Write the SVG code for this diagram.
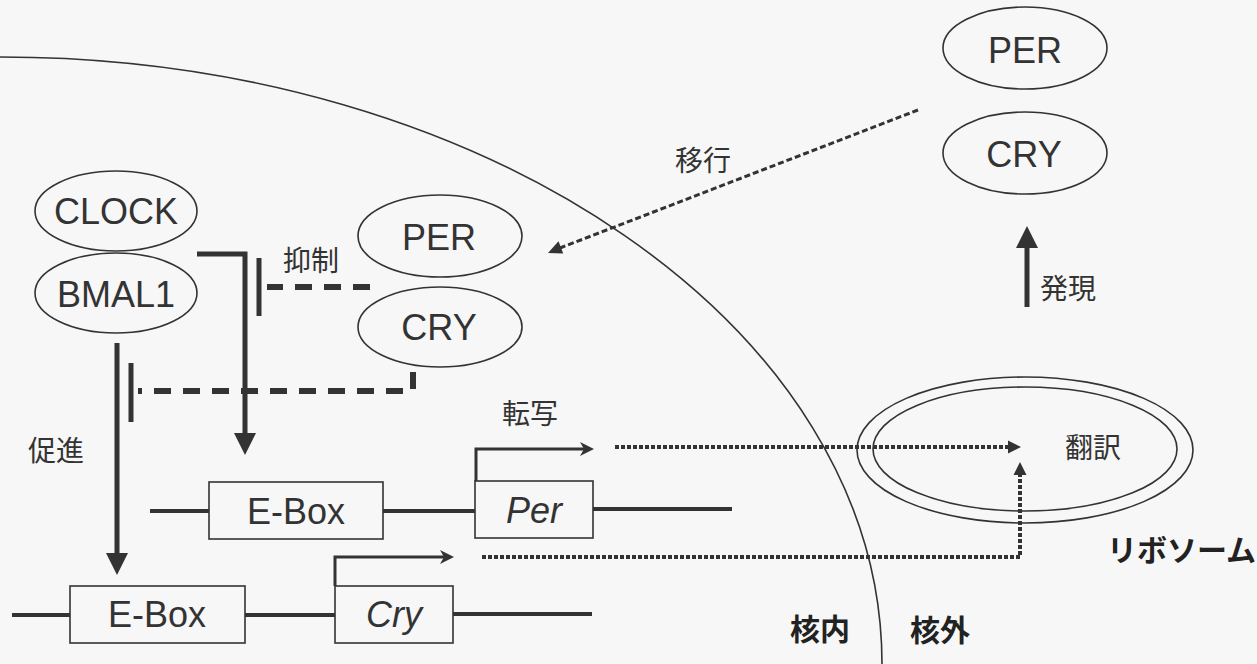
<svg xmlns="http://www.w3.org/2000/svg" width="1257" height="664" viewBox="0 0 1257 664">
<style>
.bg{fill:#f7f7f7}
.oval{fill:none;stroke:#333;stroke-width:1.6}
.box{fill:none;stroke:#333;stroke-width:1.6}
.lat{font-family:"Liberation Sans",Arial,sans-serif;font-size:36px;fill:#333;text-anchor:middle}
.it{font-style:italic}
.jp{font-family:"Noto Sans CJK JP","Noto Sans CJK SC",sans-serif;font-size:28px;fill:#333}
.jpb{font-family:"Noto Sans CJK JP","Noto Sans CJK SC",sans-serif;font-size:30px;font-weight:bold;fill:#222}
.gene{fill:none;stroke:#333;stroke-width:4}
.solid{fill:none;stroke:#333;stroke-width:5}
.thin{fill:none;stroke:#333;stroke-width:3}
.dash{fill:none;stroke:#333;stroke-width:6;stroke-dasharray:17 12}
.dot{fill:none;stroke:#333;stroke-width:4;stroke-dasharray:4 2}
.dot2{fill:none;stroke:#333;stroke-width:3;stroke-dasharray:6 3}
.membrane{fill:none;stroke:#333;stroke-width:1.6}
.head{fill:#333;stroke:none}
</style>
<rect class="bg" x="0" y="0" width="1257" height="664"/>
<path class="membrane" d="M0,57 C487,57 882,329 882,664"/>
<g id="gene-per">
<path class="gene" d="M150,511 H209 M383,511 H475 M593,509 H732"/>
<rect class="box" x="209" y="482" width="174" height="57"/>
<text class="lat" x="296" y="524">E-Box</text>
<rect class="box" x="475" y="481" width="118" height="57"/>
<text class="lat it" x="534" y="523">Per</text>
</g>
<g id="gene-cry">
<path class="gene" d="M12,615 H70 M245,615 H335 M453,614 H592"/>
<rect class="box" x="70" y="586" width="175" height="57"/>
<text class="lat" x="157" y="627">E-Box</text>
<rect class="box" x="335" y="586" width="118" height="57"/>
<text class="lat it" x="394" y="627">Cry</text>
</g>
<g id="clock"><ellipse class="oval" cx="116" cy="211" rx="81" ry="40"/><text class="lat" x="116" y="224">CLOCK</text></g>
<g id="bmal1"><ellipse class="oval" cx="116" cy="293" rx="81" ry="40"/><text class="lat" x="116" y="307">BMAL1</text></g>
<g id="per-nuc"><ellipse class="oval" cx="440" cy="236" rx="82" ry="41"/><text class="lat" x="439" y="250">PER</text></g>
<g id="cry-nuc"><ellipse class="oval" cx="440" cy="327" rx="82" ry="40"/><text class="lat" x="439" y="340">CRY</text></g>
<g id="per-cyt"><ellipse class="oval" cx="1025" cy="48" rx="82" ry="41"/><text class="lat" x="1025" y="63">PER</text></g>
<g id="cry-cyt"><ellipse class="oval" cx="1025" cy="153" rx="82" ry="41"/><text class="lat" x="1024" y="167">CRY</text></g>
<g id="ribosome">
<ellipse class="oval" cx="1025" cy="450" rx="168" ry="73"/>
<ellipse class="oval" cx="1025" cy="449" rx="152" ry="62"/>
<text class="jp" x="1065" y="458">翻訳</text>
<text class="jpb" x="1107" y="561" font-size="28">リボソーム</text>
</g>
<g id="connectors">
<path class="solid" d="M197,254 H245 V435"/>
<polygon class="head" points="234,433 256,433 245,455"/>
<path class="solid" d="M117,343 V555"/>
<polygon class="head" points="106,553 128,553 117,575"/>
<path class="dash" d="M370,287 H267"/>
<path class="solid" d="M259,258 V316"/>
<path class="dash" d="M413,372 V391 H138"/>
<path class="solid" d="M131,363 V422"/>
<path class="dot2" d="M918,110 L560,248"/>
<polygon class="head" points="548,253 558.5,241.3 563.2,253.4"/>
<path class="solid" d="M1027,307 V246"/>
<polygon class="head" points="1016,248 1038,248 1027,226"/>
<path class="thin" d="M476,481 V449 H584"/>
<polygon class="head" points="594,449 580,442 584,449 580,456"/>
<path class="thin" d="M335,586 V557 H444"/>
<polygon class="head" points="454,557 440,550 444,557 440,564"/>
<path class="dot" d="M615,447 H1008"/>
<polygon class="head" points="1021,447 1008,440.5 1008,453.5"/>
<path class="dot" d="M482,557 H1020 V475"/>
<polygon class="head" points="1020,462 1013.5,475 1026.5,475"/>
</g>
<g id="labels">
<text class="jp" x="283" y="271">抑制</text>
<text class="jp" x="675" y="171">移行</text>
<text class="jp" x="1040" y="299">発現</text>
<text class="jp" x="502" y="424">転写</text>
<text class="jp" x="28" y="461">促進</text>
<text class="jpb" x="790" y="640" font-size="31">核内</text>
<text class="jpb" x="910" y="641">核外</text>
</g>
</svg>
